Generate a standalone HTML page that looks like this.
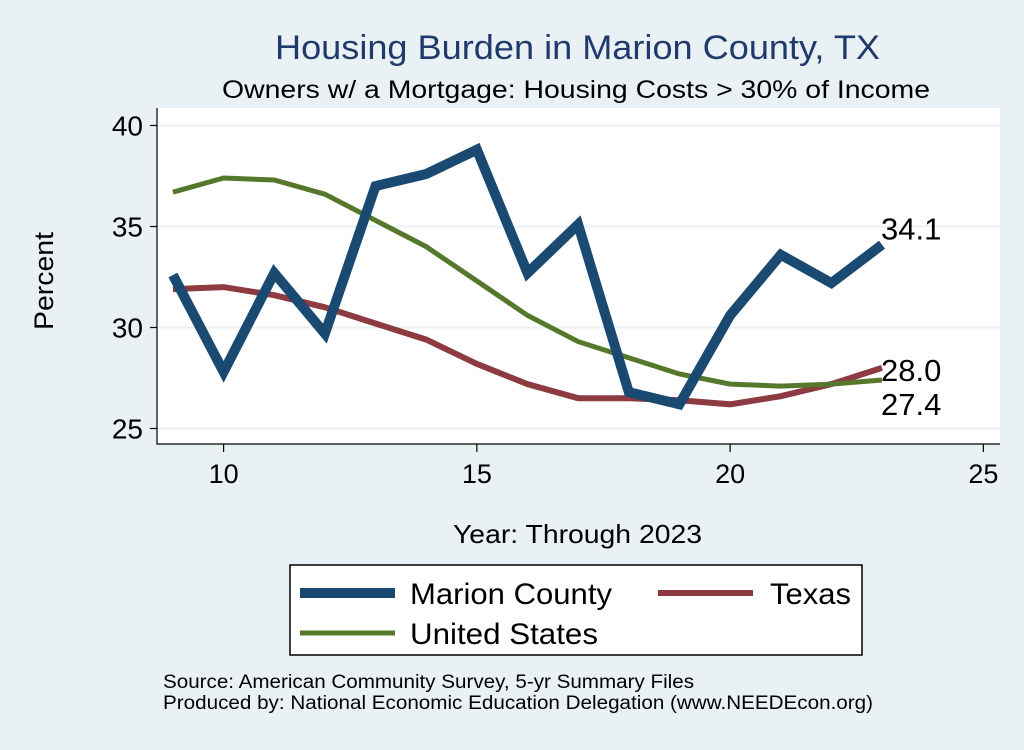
<!DOCTYPE html>
<html><head><meta charset="utf-8"><style>
body{margin:0;background:#eaf1f4;}
svg text{font-family:"Liberation Sans",sans-serif;}
</style></head><body>
<svg width="1024" height="745" id="c">
<rect x="0" y="0" width="1024" height="745" fill="#eaf1f4"/>
<text x="275" y="59" font-size="34" fill="#1f3a6b" textLength="605" lengthAdjust="spacingAndGlyphs">Housing Burden in Marion County, TX</text>
<text x="222" y="98" font-size="25" fill="#000" textLength="708" lengthAdjust="spacingAndGlyphs">Owners w/ a Mortgage: Housing Costs &gt; 30% of Income</text>
<rect x="157" y="108" width="843" height="336" fill="#fff"/>
<g id="grid"></g>
<g id="series"></g>
<g id="axes"></g>
<text transform="translate(53,330) rotate(-90)" font-size="27" textLength="98" lengthAdjust="spacingAndGlyphs">Percent</text>
<text x="453" y="543" font-size="26" textLength="249" lengthAdjust="spacingAndGlyphs">Year: Through 2023</text>
<g>
<rect x="290" y="565" width="572" height="90" fill="#fff" stroke="#000" stroke-width="1.5"/>
<line x1="300" y1="593" x2="395" y2="593" stroke="#1a4a72" stroke-width="10"/>
<text x="410" y="604" font-size="30" textLength="202" lengthAdjust="spacingAndGlyphs">Marion County</text>
<line x1="658" y1="593" x2="753" y2="593" stroke="#8e3a41" stroke-width="6"/>
<text x="770" y="604" font-size="30" textLength="81" lengthAdjust="spacingAndGlyphs">Texas</text>
<line x1="300" y1="633" x2="395" y2="633" stroke="#55782c" stroke-width="5"/>
<text x="410" y="644" font-size="30" textLength="188" lengthAdjust="spacingAndGlyphs">United States</text>
</g>
<text x="163" y="688" font-size="19" textLength="531" lengthAdjust="spacingAndGlyphs">Source: American Community Survey, 5-yr Summary Files</text>
<text x="163" y="709" font-size="19" textLength="710" lengthAdjust="spacingAndGlyphs">Produced by: National Economic Education Delegation (www.NEEDEcon.org)</text>
</svg>
<script>
const years=[9,10,11,12,13,14,15,16,17,18,19,20,21,22,23];
const marion=[32.6,27.8,32.7,29.7,37.0,37.6,38.8,32.7,35.1,26.8,26.2,30.6,33.6,32.2,34.1];
const texas=[31.9,32.0,31.6,31.0,30.2,29.4,28.2,27.2,26.5,26.5,26.4,26.2,26.6,27.2,28.0];
const us=[36.7,37.4,37.3,36.6,35.3,34.0,32.3,30.6,29.3,28.5,27.7,27.2,27.1,27.2,27.4];
const yTicks=[25,30,35,40];
const xTicks=[10,15,20,25];
const NS="http://www.w3.org/2000/svg";
function X(v){return 223.6+(v-10)*50.65;}
function Y(v){return 428.5-(v-25)*20.2;}
function mk(p,t,a){const e=document.createElementNS(NS,t);for(const k in a)e.setAttribute(k,a[k]);document.getElementById(p).appendChild(e);return e;}
yTicks.forEach(t=>{
 const g=mk('grid','line',{x1:158,x2:1000,y1:Y(t),y2:Y(t),stroke:'#e9f0f3','stroke-width':2});
 
 
 const tk=mk('axes','line',{x1:150,x2:157,y1:Y(t),y2:Y(t),stroke:'#000','stroke-width':1.2});
 
 
 const l=mk('axes','text',{x:143,y:Y(t)+10,'font-size':28,'text-anchor':'end'});l.textContent=t;
 
 
});
xTicks.forEach(t=>{
 const tk=mk('axes','line',{x1:X(t),x2:X(t),y1:444,y2:452,stroke:'#000','stroke-width':1.2});
 
 
 const l=mk('axes','text',{x:X(t),y:483,'font-size':27,'text-anchor':'middle'});l.textContent=t;
 
 
});
const ax=mk('axes','path',{d:'M157,108 V444 H1000',fill:'none',stroke:'#000','stroke-width':1.2});


function line(arr,col,w,name){
 const d=arr.map((v,i)=>(i?'L':'M')+X(years[i]).toFixed(1)+','+Y(v).toFixed(1)).join(' ');
 const p=mk('series','path',{d:d,fill:'none',stroke:col,'stroke-width':w,'stroke-linejoin':'miter'});
 
 
}
line(texas,'#8e3a41',6,'line-texas');
line(us,'#55782c',5,'line-united-states');
line(marion,'#1a4a72',10,'line-marion-county');
const n=years.length-1;
function lab(v,dy,name){const t=mk('series','text',{x:X(years[n])-1,y:Y(v)+dy,'font-size':31});t.textContent=v.toFixed(1);
 
 }
lab(marion[n],-5,'end-label-marion');
lab(texas[n],13,'end-label-texas');
lab(us[n],35,'end-label-us');
</script>
</body></html>
